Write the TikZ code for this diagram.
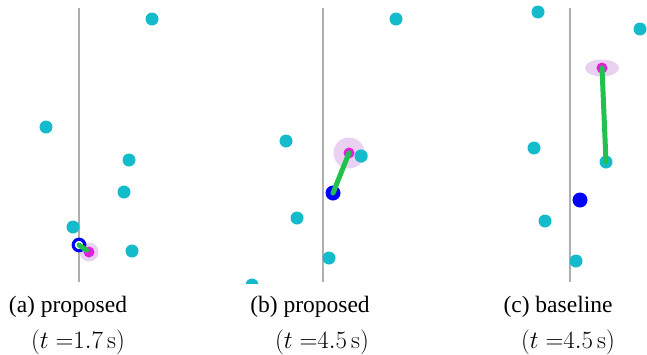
\documentclass[tikz,border=0pt]{standalone}
\usepackage[no-math]{fontspec}
\setmainfont{Liberation Serif}
\usetikzlibrary{shapes.geometric,calc}
\definecolor{obst}{HTML}{14BCCB}
\definecolor{robot}{HTML}{0000FF}
\definecolor{link}{HTML}{22C04E}
\definecolor{tgt}{HTML}{E020DC}
\definecolor{halo}{HTML}{E6C6EE}
\definecolor{axisgray}{HTML}{AFAFAF}
\begin{document}
\begin{tikzpicture}[x=1pt,y=-1pt,
  obstacle/.style={circle,fill=obst,inner sep=0pt,minimum size=13pt},
  robotdot/.style={circle,fill=robot,inner sep=0pt,minimum size=15pt},
  robotring/.style={circle,draw=robot,line width=3.2pt,fill=white,inner sep=0pt,minimum size=11.5pt},
  target/.style={circle,fill=tgt,inner sep=0pt,minimum size=11pt},
  haloc/.style={circle,fill=halo,opacity=0.8,inner sep=0pt},
  linkline/.style={draw=link,line width=5pt,line cap=round},
  divider/.style={draw=axisgray,line width=1.6pt},
  captext/.style={font=\fontsize{23.5}{26}\selectfont,anchor=base}]
\useasboundingbox (0,0) rectangle (647,354);
% ---------- panel (a)
\coordinate (a1) at (79,8); \coordinate (a2) at (79,282);
\draw[divider] (a1) -- (a2);
\node[obstacle] (ao1) at (152,19) {};
\node[obstacle] (ao2) at (46,127) {};
\node[obstacle] (ao3) at (129,160) {};
\node[obstacle] (ao4) at (124,192) {};
\node[obstacle] (ao5) at (73,227) {};
\node[obstacle] (ao6) at (132,251) {};
\node[haloc,minimum size=19pt] (ah) at (89,252) {};
\node[target] (at) at (89,252) {};
\node[robotring] (ar) at (79,245) {};
\draw[linkline] (ar.center) -- ($(at.center)!0.25!(ar.center)$);
% ---------- panel (b)
\coordinate (b1) at (323,8); \coordinate (b2) at (323,282);
\draw[divider] (b1) -- (b2);
\node[obstacle] (bo1) at (396,19) {};
\node[obstacle] (bo2) at (286,141) {};
\node[obstacle] (bo3) at (361,156) {};
\node[obstacle] (bo4) at (297,218) {};
\node[obstacle] (bo5) at (329,258) {};
\begin{scope}
\clip (240,0) rectangle (420,283);
\node[obstacle] (bo6) at (252,285) {};
\end{scope}
\node[haloc,minimum size=31pt] (bh) at (349,153) {};
\node[obstacle] (bo3b) at (361,156) {};
\node[target] (bt) at (349,153) {};
\node[robotdot] (br) at (333,193) {};
\draw[linkline] (br.center) -- (bt.center);
% ---------- panel (c)
\coordinate (c1) at (570,8); \coordinate (c2) at (570,282);
\draw[divider] (c1) -- (c2);
\node[obstacle] (co1) at (538,12) {};
\node[obstacle] (co2) at (640,29) {};
\node[obstacle] (co3) at (534,148) {};
\node[obstacle] (co4) at (606,162) {};
\node[obstacle] (co5) at (545,221) {};
\node[obstacle] (co6) at (576,261) {};
\node[ellipse,fill=halo,opacity=0.8,minimum width=34pt,minimum height=17pt,inner sep=0pt] (ch) at (602,68) {};
\node[target] (ct) at (602,68) {};
\draw[linkline] (ct.center) -- (co4.center);
\node[robotdot] (cr) at (580,200) {};
% ---------- captions
\node[captext] (capa) at (68,312) {(a) proposed};
\node[captext] (capat) at (78,348) {$(t\;{=}1.7\,\mathrm{s})$};
\node[captext] (capb) at (310,312) {(b) proposed};
\node[captext] (capbt) at (322,348) {$(t\;{=}4.5\,\mathrm{s})$};
\node[captext] (capc) at (558,312) {(c) baseline};
\node[captext] (capct) at (568,348) {$(t\;{=}4.5\,\mathrm{s})$};
\end{tikzpicture}
\end{document}
